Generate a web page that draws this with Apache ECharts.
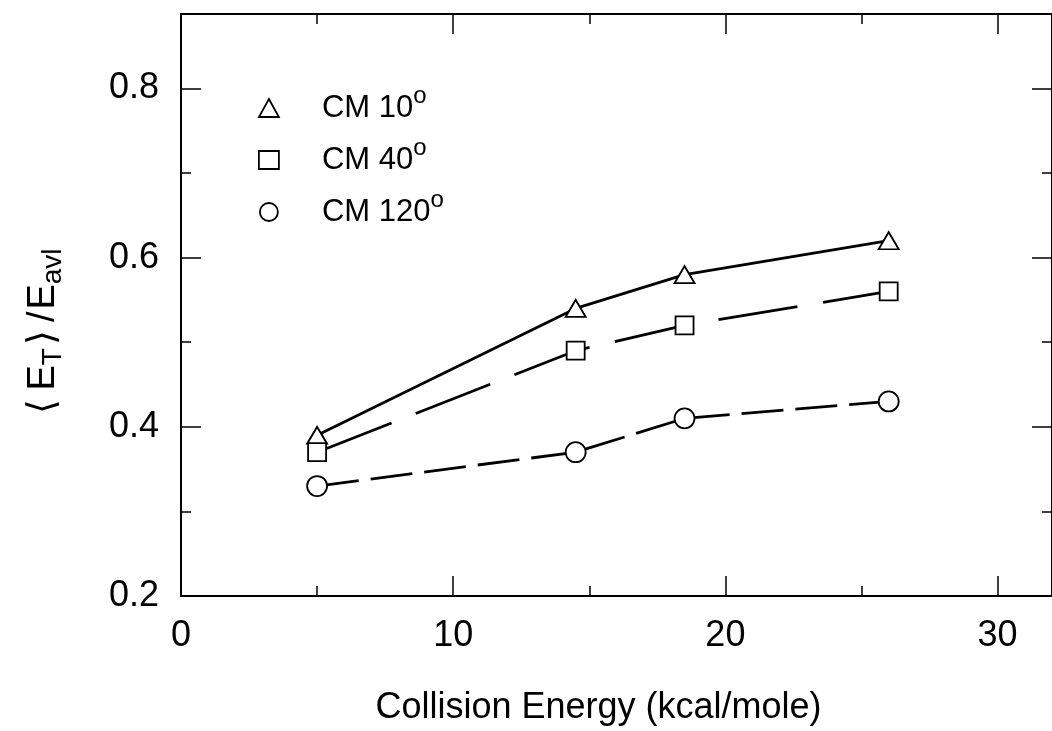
<!DOCTYPE html>
<html><head><meta charset="utf-8">
<script src="https://cdn.jsdelivr.net/npm/echarts@6/dist/echarts.min.js"></script>
<style>html,body{margin:0;padding:0;background:#fff}#c{width:1052px;height:731px}</style>
</head><body><div id="c"></div>
<script>
// ---- data ----
const energies = [5, 14.5, 18.5, 26];
const cm10 = [0.39, 0.54, 0.58, 0.62];
const cm40 = [0.37, 0.49, 0.52, 0.56];
const cm120 = [0.33, 0.37, 0.41, 0.43];
const seriesNames = ['CM 10', 'CM 40', 'CM 120'];
const xMajorTicks = [0, 10, 20, 30];
const xMinorTicks = [5, 15, 25];
const yMajorTicks = [0.2, 0.4, 0.6, 0.8];
const yMinorTicks = [0.3, 0.5, 0.7];
const xTitle = 'Collision Energy (kcal/mole)';

const FONT = '"Liberation Sans", Arial, Helvetica, sans-serif';
const BLACK = '#000';
const X_MIN = 0, X_MAX = 32, Y_MIN = 0.2, Y_MAX = 0.888;

function pairs(xs, ys) { return xs.map((x, i) => [x, ys[i]]); }

function xAx(pos, ticks, len, showLine, labels) {
  return {
    type: 'value', position: pos, min: X_MIN, max: X_MAX,
    axisLine: { show: showLine, onZero: false, lineStyle: { color: BLACK, width: 2 } },
    axisTick: { show: true, inside: true, length: len, customValues: ticks, lineStyle: { color: BLACK, width: 1.5 } },
    axisLabel: labels ? { show: true, customValues: ticks, margin: 22, color: BLACK, fontSize: 36, fontFamily: FONT, formatter: v => String(v) } : { show: false },
    splitLine: { show: false }
  };
}
function yAx(pos, ticks, len, showLine, labels) {
  return {
    type: 'value', position: pos, min: Y_MIN, max: Y_MAX,
    axisLine: { show: showLine, onZero: false, lineStyle: { color: BLACK, width: 2 } },
    axisTick: { show: true, inside: true, length: len, customValues: ticks, lineStyle: { color: BLACK, width: 1.5 } },
    axisLabel: labels ? { show: true, customValues: ticks, margin: 22, color: BLACK, fontSize: 36, fontFamily: FONT, formatter: v => v.toFixed(1) } : { show: false },
    splitLine: { show: false }
  };
}

const xAxes = [
  xAx('bottom', xMajorTicks, 20, true, true),
  xAx('bottom', xMinorTicks, 10, false, false),
  xAx('top', xMajorTicks, 20, true, false),
  xAx('top', xMinorTicks, 10, false, false)
];
Object.assign(xAxes[0], {
  name: xTitle, nameLocation: 'middle', nameGap: 94,
  nameTextStyle: { color: BLACK, fontSize: 36, fontFamily: FONT, padding: [0, 36, 0, 0] }
});
const yAxes = [
  yAx('left', yMajorTicks, 20, true, true),
  yAx('left', yMinorTicks, 10, false, false),
  yAx('right', yMajorTicks, 20, true, false),
  yAx('right', yMinorTicks, 10, false, false)
];
Object.assign(yAxes[0], {
  name: '{b|\u27E8}{m|E}{s|T}{c|\u27E9}{d|/}{m|E}{s|avl}', nameLocation: 'middle', nameGap: 114, nameRotate: 90,
  nameTextStyle: {
    color: BLACK, fontFamily: FONT, padding: [0, 58, 0, 0],
    rich: {
      b: { fontSize: 38, lineHeight: 46, color: BLACK, fontFamily: FONT, padding: [0, 8, 0, 6] },
      c: { fontSize: 38, lineHeight: 46, color: BLACK, fontFamily: FONT, padding: [0, 6, 0, 3] },
      d: { fontSize: 38, lineHeight: 46, color: BLACK, fontFamily: FONT, padding: [0, 2, 0, 2] },
      m: { fontSize: 38, lineHeight: 46, color: BLACK, fontFamily: FONT },
      s: { fontSize: 28, lineHeight: 22, color: BLACK, fontFamily: FONT, verticalAlign: 'bottom' }
    }
  }
});

const markerStyle = { color: '#fff', borderColor: BLACK, borderWidth: 1.8 };
const series = [
  { name: seriesNames[0], type: 'line', data: pairs(energies, cm10), symbol: 'triangle', symbolSize: [20, 17],
    itemStyle: markerStyle, lineStyle: { color: BLACK, width: 2.8, type: 'solid' } },
  { name: seriesNames[1], type: 'line', data: pairs(energies, cm40), symbol: 'rect', symbolSize: 18,
    itemStyle: markerStyle, lineStyle: { color: BLACK, width: 2.8, type: [80, 26] } },
  { name: seriesNames[2], type: 'line', data: pairs(energies, cm120), symbol: 'circle', symbolSize: 20,
    itemStyle: markerStyle, lineStyle: { color: BLACK, width: 2.8, type: [42, 12] } }
].map(s => Object.assign(s, { xAxisIndex: 0, yAxisIndex: 0, showSymbol: true, animation: false, z: 3 }));

const icons = ['triangle', 'rect', 'circle'];
const option = {
  backgroundColor: '#fff',
  animation: false,
  grid: { left: 181, top: 14, width: 875, height: 582, containLabel: false },
  xAxis: xAxes,
  yAxis: yAxes,
  legend: {
    orient: 'vertical', left: 253, top: 79, itemWidth: 20, itemHeight: 18, itemGap: 12.5,
    data: seriesNames.map((n, i) => ({ name: n, icon: icons[i] })),
    itemStyle: { color: '#fff', borderColor: BLACK, borderWidth: 1.8 },
    formatter: n => '{m|' + n + '}{s|o}',
    textStyle: {
      color: BLACK, fontFamily: FONT, padding: [0, 0, 0, 38],
      rich: {
        m: { fontSize: 31, lineHeight: 48, color: BLACK, fontFamily: FONT },
        s: { fontSize: 24, lineHeight: 24, color: BLACK, fontFamily: FONT, verticalAlign: 'top' }
      }
    },
    selectedMode: false
  },
  series: series
};
const chart = echarts.init(document.getElementById('c'), null, { renderer: 'canvas' });
chart.setOption(option);
</script></body></html>
